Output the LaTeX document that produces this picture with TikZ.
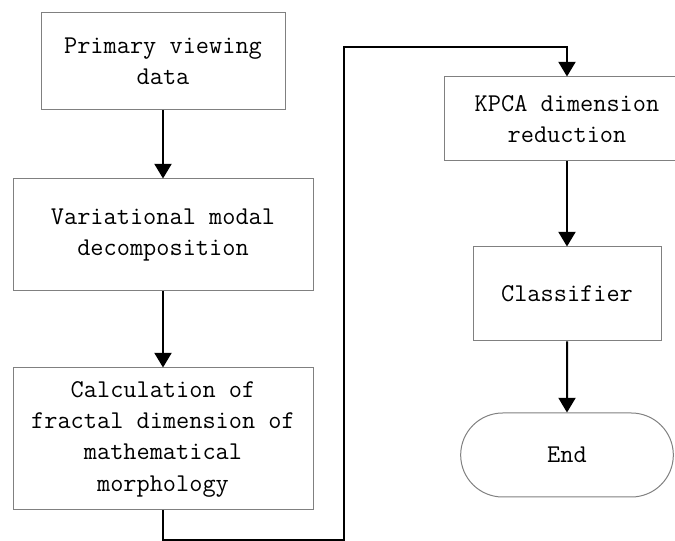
\documentclass[tikz,border=0pt]{standalone}
\usepackage{fontspec}
\usepackage{tikz}
\usetikzlibrary{arrows.meta,shapes.misc}
\definecolor{boxline}{HTML}{808080}

\begin{document}
\begin{tikzpicture}[
  x=0.75pt,y=-0.75pt,
  box/.style={rectangle, draw=boxline, line width=0.75pt, align=center, inner sep=2pt, font=\ttfamily\fontsize{19.2}{23.5}\selectfont},
  endbox/.style={rounded rectangle, draw=boxline, line width=0.75pt, align=center, inner sep=2pt, font=\ttfamily\fontsize{19.2}{23.5}\selectfont},
  flow/.style={-{Triangle[width=12.75pt,length=11pt]}, line width=1.5pt, color=black},
]
\useasboundingbox (0,0) rectangle (675,541);
\clip (0,0) rectangle (675,541);
\node[box, minimum width=183pt, minimum height=72.75pt] (prim) at (163,61.5) {Primary viewing\\data};
\node[box, minimum width=225pt, minimum height=84pt] (vmd) at (163,235) {Variational modal\\decomposition};
\node[box, minimum width=225pt, minimum height=106.5pt] (frac) at (163,439) {Calculation of\\fractal dimension of\\mathematical\\morphology};
\node[box, minimum width=184.5pt, minimum height=63pt] (kpca) at (567,119) {KPCA dimension\\reduction};
\node[box, minimum width=141pt, minimum height=70.5pt] (cls) at (567,294) {Classifier};
\node[endbox, minimum width=163.5pt, minimum height=63pt] (fin) at (567,455) {End};
\coordinate (lo) at (344,540); \coordinate (hi) at (344,47);
\draw[flow] (prim)--(vmd); \draw[flow] (vmd)--(frac);
\draw[flow] (frac.south) |- (lo) -- (hi) -| (kpca.north);
\draw[flow] (kpca)--(cls); \draw[flow] (cls)--(fin);
\end{tikzpicture}
\end{document}
